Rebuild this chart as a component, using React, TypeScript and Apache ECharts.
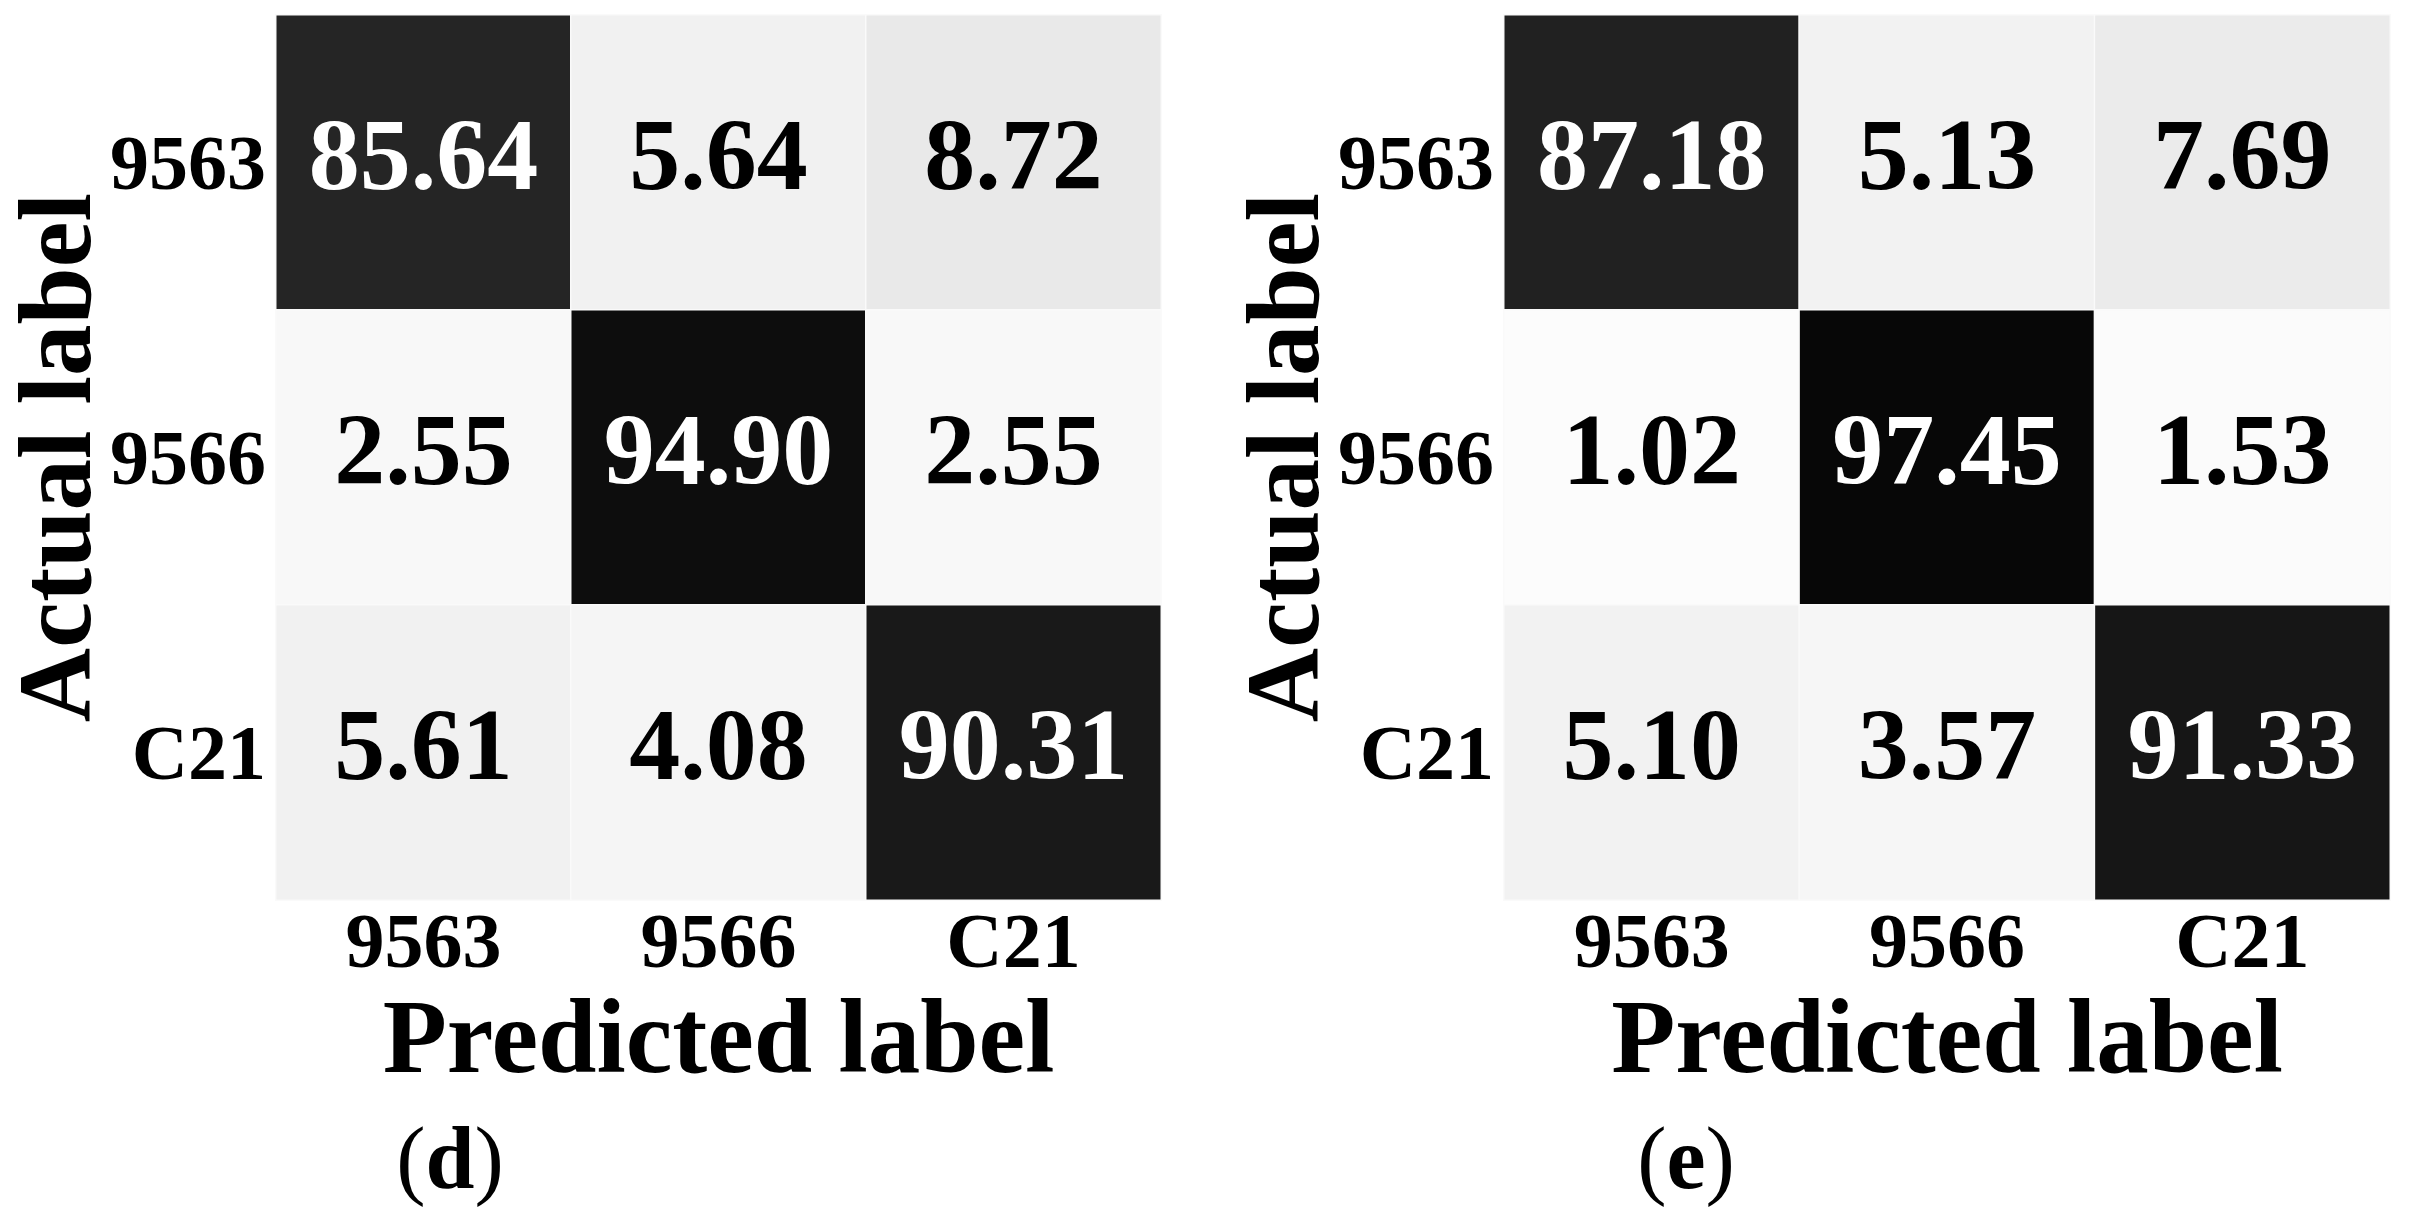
import React, { useEffect, useRef } from "react";
import * as echarts from "echarts";

const categories = ["9563", "9566", "C21"];
// rows = actual label, columns = predicted label
const matrixD = [
  [85.64, 5.64, 8.72],
  [2.55, 94.9, 2.55],
  [5.61, 4.08, 90.31],
];
const matrixE = [
  [87.18, 5.13, 7.69],
  [1.02, 97.45, 1.53],
  [5.1, 3.57, 91.33],
];
const panelLabels = ["d", "e"];

const FONT = "Liberation Serif";

function toCells(m: number[][]) {
  const out: [number, number, number][] = [];
  m.forEach((row, r) => row.forEach((v, c) => out.push([c, r, v])));
  return out;
}

export default function App() {
  const ref = useRef<HTMLDivElement>(null);
  useEffect(() => {
    document.body.style.margin = "0";
    if (!ref.current) return;
    const chart = echarts.init(ref.current, null, { renderer: "svg" });
    const grids = [
      { left: 276, top: 15, width: 885, height: 885 },
      { left: 1504, top: 15, width: 886, height: 885 },
    ];
    const xAxes = grids.map((_, i) => ({
      type: "category",
      gridIndex: i,
      data: categories,
      position: "bottom",
      axisLine: { show: false },
      axisTick: { show: false },
      splitLine: { show: false },
      axisLabel: {
        margin: 1,
        fontSize: 78,
        fontWeight: "bold",
        fontFamily: FONT,
        color: "#000",
      },
      name: "Predicted label",
      nameLocation: "middle",
      nameGap: 80,
      nameTextStyle: {
        fontSize: 105,
        fontWeight: "bold",
        fontFamily: FONT,
        color: "#000",
      },
    }));
    const yAxes = grids.map((_, i) => ({
      type: "category",
      gridIndex: i,
      data: categories,
      inverse: true,
      axisLine: { show: false },
      axisTick: { show: false },
      splitLine: { show: false },
      axisLabel: {
        margin: 10,
        fontSize: 78,
        fontWeight: "bold",
        fontFamily: FONT,
        color: "#000",
        padding: [0, 0, 16, 0],
      },
      name: "Actual label",
      nameLocation: "middle",
      nameGap: 168,
      nameTextStyle: {
        fontSize: 103,
        lineHeight: 94,
        fontWeight: "bold",
        fontFamily: FONT,
        color: "#000",
      },
    }));
    const mats = [matrixD, matrixE];
    const series = mats.map((m) => ({
      type: "heatmap",
      data: toCells(m).map((d) => ({
        value: d,
        label: { color: d[2] > 50 ? "#fff" : "#000" },
      })),
      itemStyle: { borderColor: "#fafafa", borderWidth: 1.5 },
      label: {
        show: true,
        fontSize: 102,
        fontWeight: "bold",
        fontFamily: FONT,
        offset: [0, -8],
        formatter: (p: any) => (p.value[2] as number).toFixed(2),
      },
      emphasis: { disabled: true },
    }));
    series.forEach((s: any, i) => {
      s.xAxisIndex = i;
      s.yAxisIndex = i;
    });
    const visualMap = mats.map((_, i) => ({
      type: "continuous",
      show: false,
      min: 0,
      max: 100,
      dimension: 2,
      seriesIndex: i,
      inRange: { color: ["#ffffff", "#000000"] },
    }));
    const graphic = panelLabels.map((t, i) => ({
      type: "text",
      x: [450, 1686][i],
      y: 1158,
      style: {
        text: `{p|(}{b|${t}}{p|)}`,
        align: "center",
        verticalAlign: "middle",
        rich: {
          p: { fontSize: 88, lineHeight: 96, fontFamily: FONT, fill: "#000", fontWeight: "normal" },
          b: { fontSize: 88, lineHeight: 96, fontFamily: FONT, fill: "#000", fontWeight: "bold" },
        },
      },
    }));
    chart.setOption({
      animation: false,
      backgroundColor: "#ffffff",
      grid: grids,
      xAxis: xAxes,
      yAxis: yAxes,
      visualMap,
      series,
      graphic,
    });
    return () => chart.dispose();
  }, []);
  return <div ref={ref} style={{ width: 2412, height: 1217 }} />;
}
